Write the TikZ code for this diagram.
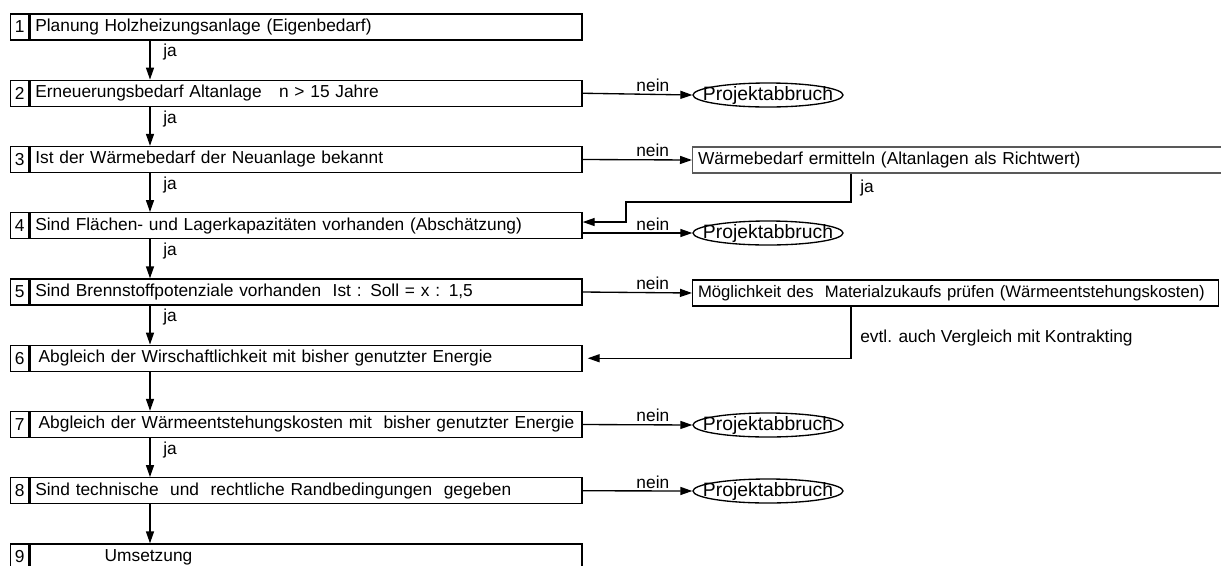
\documentclass[tikz,border=0pt]{standalone}
\usepackage{fontspec}
\setmainfont{Liberation Sans}
\usetikzlibrary{arrows.meta,positioning,shapes.geometric}

\begin{document}
\begin{tikzpicture}[x=0.75pt,y=-0.75pt,line width=1pt,
  every node/.style={font=\fontsize{13}{15}\selectfont},
  num/.style={draw,anchor=west,minimum width=13.5pt,minimum height=19.5pt,inner sep=0pt},
  stepbox/.style={draw,minimum height=19.5pt,text width=406pt,inner xsep=4pt,inner ysep=0pt,align=left},
  sidebox/.style={draw,anchor=west,minimum height=19.5pt,inner xsep=4pt,inner ysep=0pt,align=left},
  stop/.style={draw,ellipse,minimum width=112.5pt,minimum height=18pt,inner sep=0pt,
    label={[font=\fontsize{14.5}{16}\selectfont]center:Projektabbruch}},
  arr/.style={-{Triangle[length=9pt,width=6pt]}},
  lbl/.style={inner sep=1.5pt}]
\useasboundingbox (0,0) rectangle (1221,565);

\coordinate (spine) at (150,0);
\coordinate (drop) at (851,0);
\coordinate (bend) at (626,202);

\node[num] (num1) at (10,27) {1};
\node[stepbox,right=0pt of num1] (box1) {Planung Holzheizungsanlage (Eigenbedarf)};
\node[num] (num2) at (10,93.25) {2};
\node[stepbox,right=0pt of num2] (box2) {Erneuerungsbedarf Altanlage~~ n > 15 Jahre};
\node[num] (num3) at (10,159.5) {3};
\node[stepbox,right=0pt of num3] (box3) {Ist der Wärmebedarf der Neuanlage bekannt};
\node[num] (num4) at (10,225.75) {4};
\node[stepbox,right=0pt of num4] (box4) {Sind Flächen- und Lagerkapazitäten vorhanden (Abschätzung)};
\node[num] (num5) at (10,292) {5};
\node[stepbox,right=0pt of num5] (box5) {Sind Brennstoffpotenziale vorhanden~ Ist : Soll = x : 1,5};
\node[num] (num6) at (10,358.25) {6};
\node[stepbox,right=0pt of num6] (box6) {\hspace*{2.5pt}Abgleich der Wirschaftlichkeit mit bisher genutzter Energie};
\node[num] (num7) at (10,424.5) {7};
\node[stepbox,right=0pt of num7] (box7) {\hspace*{2.5pt}Abgleich der Wärmeentstehungskosten mit~ bisher genutzter Energie};
\node[num] (num8) at (10,490.75) {8};
\node[stepbox,right=0pt of num8] (box8) {Sind technische~ und~ rechtliche Randbedingungen~ gegeben};
\node[num] (num9) at (10,557) {9};
\node[stepbox,right=0pt of num9] (box9) {\hspace*{52pt}Umsetzung};

\node[stop] (stop1) at (768,95) {};
\node[sidebox,text width=403pt,draw=black!65] (wb) at (692,160) {Wärmebedarf ermitteln (Altanlagen als Richtwert)};
\node[stop] (stop2) at (768,233) {};
\node[sidebox,text width=386.5pt,font=\fontsize{12.5}{15}\selectfont] (mz) at (692,293) {\mbox{Möglichkeit des~ Materialzukaufs prüfen (Wärmeentstehungskosten)}};
\node[stop] (stop3) at (768,425) {};
\node[stop] (stop4) at (768,491) {};

\draw[arr] (box1.south -| spine) -- node[lbl,right=8pt,pos=0.3] {ja} (box2.north -| spine);
\draw[arr] (box2.south -| spine) -- node[lbl,right=8pt,pos=0.3] {ja} (box3.north -| spine);
\draw[arr] (box3.south -| spine) -- node[lbl,right=8pt,pos=0.3] {ja} (box4.north -| spine);
\draw[arr] (box4.south -| spine) -- node[lbl,right=8pt,pos=0.3] {ja} (box5.north -| spine);
\draw[arr] (box5.south -| spine) -- node[lbl,right=8pt,pos=0.3] {ja} (box6.north -| spine);
\draw[arr] (box6.south -| spine) -- (box7.north -| spine);
\draw[arr] (box7.south -| spine) -- node[lbl,right=8pt,pos=0.3] {ja} (box8.north -| spine);
\draw[arr] (box8.south -| spine) -- (box9.north -| spine);

\draw[arr] (box2.east) -- node[lbl,above,pos=0.64] {nein} (stop1.west);
\draw[arr] (box3.east) -- node[lbl,above,pos=0.64] {nein} (wb.west);
\draw[arr] (box4.east |- stop2) -- node[lbl,above,pos=0.64] {nein} (stop2.west);
\draw[arr] (box5.east) -- node[lbl,above,pos=0.64] {nein} (mz.west);
\draw[arr] (box7.east) -- node[lbl,above,pos=0.64] {nein} (stop3.west);
\draw[arr] (box8.east) -- node[lbl,above,pos=0.64] {nein} (stop4.west);

\draw[arr] (wb.south -| drop) |- node[lbl,right=5pt,pos=0.25] {ja} (bend) |- ([yshift=2.8pt]box4.east);
\draw[arr] (mz.south -| drop) |- node[lbl,right=5pt,pos=0.3] {evtl. auch Vergleich mit Kontrakting} ([xshift=3.75pt]box6.east);
\end{tikzpicture}
\end{document}
